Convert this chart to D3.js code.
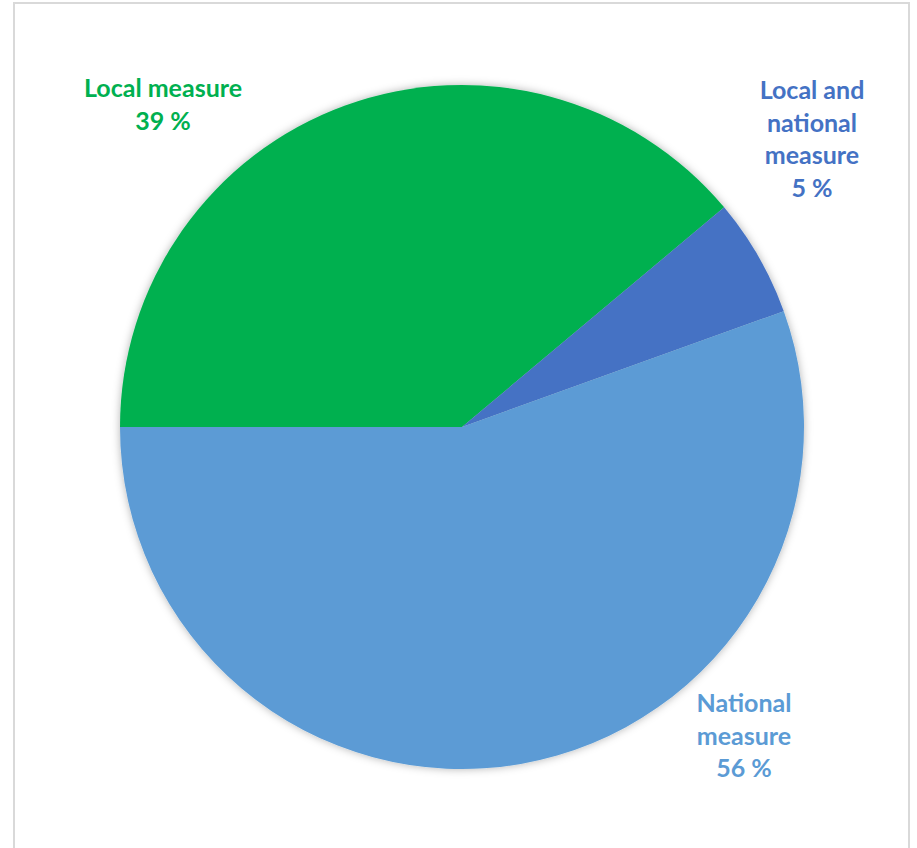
<!DOCTYPE html>
<html>
<head>
<meta charset="utf-8">
<script src="https://cdn.jsdelivr.net/npm/d3@7"></script>
<style>
  body { margin: 0; background: #fff; }
  text { font-family: Lato, "Noto Sans", sans-serif; font-weight: bold; }
</style>
</head>
<body>
<div id="chart"></div>
<script>
// slice data (angles ~140deg, ~20deg, ~200deg)
const categories = ['Local measure', 'Local and national measure', 'National measure'];
const shares = [38.9, 5.6, 55.5];
const shareLabels = ['39 %', '5 %', '56 %'];
const colors = ['#00B050', '#4472C4', '#5B9BD5'];

// label lines and where they sit (layout only)
const labelLines = [
    ['Local measure', '39 %'],
    ['Local and', 'national', 'measure', '5 %'],
    ['National', 'measure', '56 %']
];
const labelPos = [
    {x: 163, y: 97},
    {x: 812, y: 99},
    {x: 744, y: 712}
];

const width = 917,
    height = 848;
const cx = 462, cy = 427, radius = 342;
const lineH = 32.5;

const svg = d3.select('#chart').append('svg')
    .attr('width', width)
    .attr('height', height);

// outer frame
svg.append('rect')
    .attr('x', 14)
    .attr('y', 3)
    .attr('width', 895)
    .attr('height', 860)
    .attr('fill', 'none')
    .attr('stroke', '#d9d9d9')
    .attr('stroke-width', 2);

const defs = svg.append('defs');
const filter = defs.append('filter')
    .attr('id', 'shadow')
    .attr('x', '-10%').attr('y', '-10%')
    .attr('width', '120%').attr('height', '120%');
filter.append('feDropShadow')
    .attr('dx', 0)
    .attr('dy', 0)
    .attr('stdDeviation', 4)
    .attr('flood-color', '#000')
    .attr('flood-opacity', 0.3);

const pie = d3.pie()
    .sort(null)
    .startAngle(-Math.PI / 2)
    .endAngle(1.5 * Math.PI)
    .value(d => d);

const arc = d3.arc()
    .innerRadius(0)
    .outerRadius(radius);

const g = svg.append('g')
    .attr('transform', 'translate(' + cx + ',' + cy + ')')
    .attr('filter', 'url(#shadow)');

g.selectAll('path')
    .data(pie(shares))
    .enter()
    .append('path')
    .attr('d', arc)
    .attr('fill', (d, i) => colors[i]);

// data labels
labelLines.forEach(function (lines, i) {
    const t = svg.append('text')
        .attr('x', labelPos[i].x)
        .attr('y', labelPos[i].y)
        .attr('text-anchor', 'middle')
        .style('font-size', '25px')
        .attr('fill', colors[i]);
    lines.forEach(function (line, j) {
        t.append('tspan')
            .attr('x', labelPos[i].x)
            .attr('dy', j === 0 ? 0 : lineH)
            .text(line);
    });
});
</script>
</body>
</html>
